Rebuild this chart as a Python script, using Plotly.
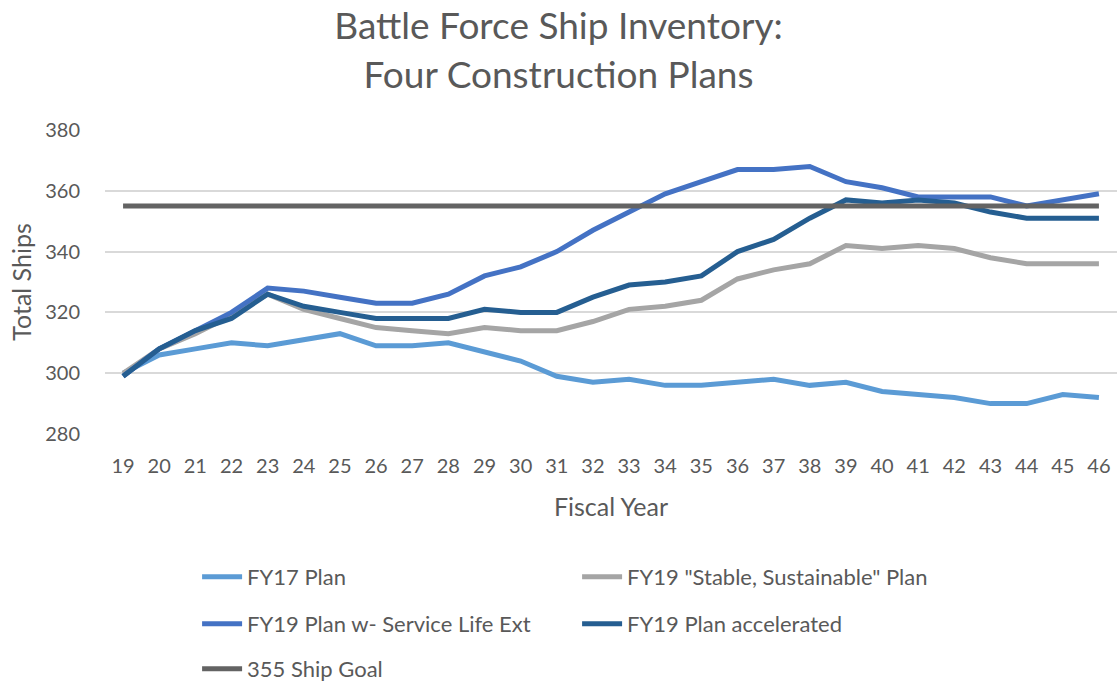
import plotly.graph_objects as go

years = [str(y) for y in range(19, 47)]
fy17_plan = [300, 306, 308, 310, 309, 311, 313, 309, 309, 310, 307, 304, 299, 297,
             298, 296, 296, 297, 298, 296, 297, 294, 293, 292, 290, 290, 293, 292]
fy19_stable = [300, 308, 313, 319, 326, 321, 318, 315, 314, 313, 315, 314, 314, 317,
               321, 322, 324, 331, 334, 336, 342, 341, 342, 341, 338, 336, 336, 336]
fy19_sle = [299, 308, 314, 320, 328, 327, 325, 323, 323, 326, 332, 335, 340, 347,
            353, 359, 363, 367, 367, 368, 363, 361, 358, 358, 358, 355, 357, 359]
fy19_accel = [299, 308, 314, 318, 326, 322, 320, 318, 318, 318, 321, 320, 320, 325,
              329, 330, 332, 340, 344, 351, 357, 356, 357, 356, 353, 351, 351, 351]
goal = [355] * 28

series = [
    ("FY17 Plan", fy17_plan, "#5B9BD5", "legend"),
    ('FY19 "Stable, Sustainable" Plan', fy19_stable, "#A5A5A5", "legend"),
    ("FY19 Plan w- Service Life Ext", fy19_sle, "#4472C4", "legend2"),
    ("FY19 Plan accelerated", fy19_accel, "#255E91", "legend2"),
    ("355 Ship Goal", goal, "#636363", "legend3"),
]

FONT = "Lato, 'Open Sans', sans-serif"
TXT = "#595959"

fig = go.Figure()
for name, vals, color, lg in series:
    fig.add_trace(go.Scatter(x=years, y=vals, name=name, mode="lines",
                             line=dict(color=color, width=5), legend=lg))

legend_common = dict(orientation="h", xref="paper", yref="container",
                     xanchor="left", yanchor="middle", entrywidth=325,
                     entrywidthmode="pixels", itemwidth=40,
                     font=dict(family=FONT, size=22, color=TXT),
                     bgcolor="rgba(0,0,0,0)")
fig.update_layout(
    width=1117, height=681,
    paper_bgcolor="white", plot_bgcolor="white",
    margin=dict(l=105, r=0, t=130, b=247, autoexpand=False),
    title=dict(text="Battle Force Ship Inventory:<br>Four Construction Plans",
               x=0.5, xanchor="center", y=0.942, yanchor="top",
               font=dict(family=FONT, size=37, color=TXT)),
    font=dict(family=FONT, color=TXT),
    xaxis=dict(type="category", range=[-0.5, len(years) - 0.5],
               showgrid=False, zeroline=False,
               tickfont=dict(size=20, color=TXT), ticks="", showline=False,
               ticklabelstandoff=18, automargin=False,
               title=dict(text="Fiscal Year", font=dict(size=25, color=TXT), standoff=22)),
    yaxis=dict(range=[280, 380], dtick=20, showgrid=True, gridcolor="#D9D9D9",
               gridwidth=1.5, zeroline=False, showline=False, ticks="",
               tickfont=dict(size=20, color=TXT), ticklabelstandoff=24, automargin=False,
               title=dict(text="Total Ships", font=dict(size=25, color=TXT), standoff=6)),
    legend=dict(**legend_common, x=0.091, y=1 - 577 / 681),
    legend2=dict(**legend_common, x=0.091, y=1 - 624 / 681),
    legend3=dict(**legend_common, x=0.091, y=1 - 669 / 681),
)

fig.write_html("out.html", config={"displayModeBar": False},
               post_script="document.body.style.margin='0';"
                           "document.body.style.overflow='hidden';")
